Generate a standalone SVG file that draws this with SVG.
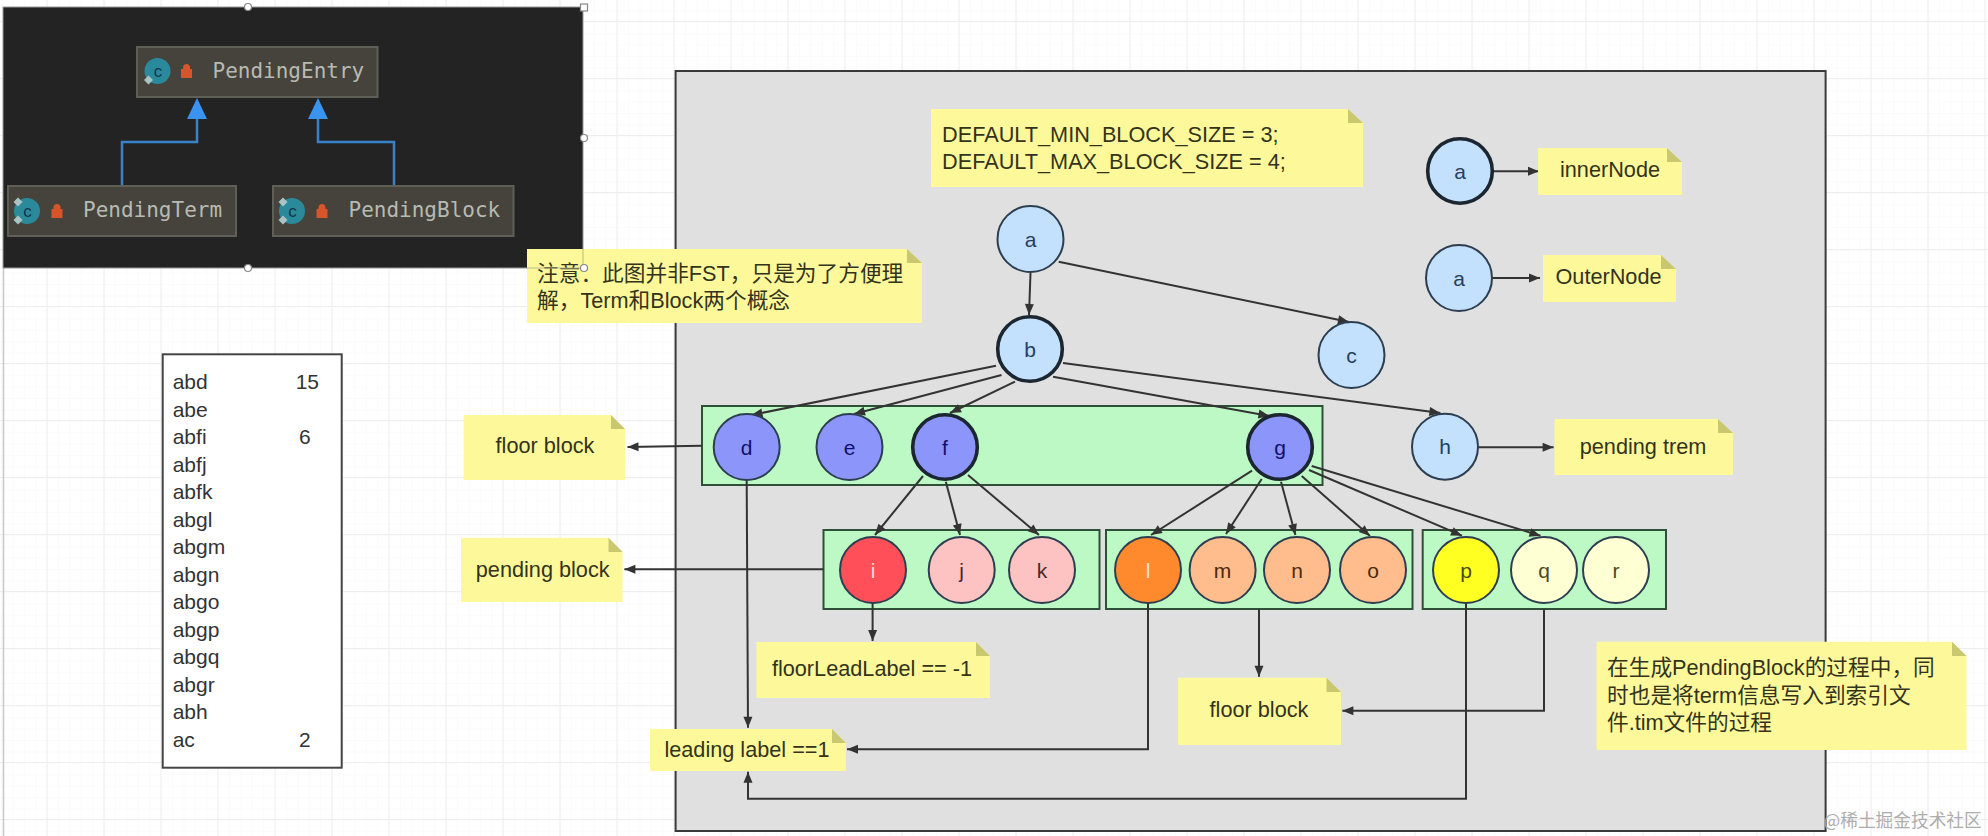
<svg xmlns="http://www.w3.org/2000/svg" width="1988" height="836" viewBox="0 0 1988 836">
<style>
.mono{font-family:"DejaVu Sans Mono",monospace;font-size:21px;fill:#b7bab3}
.kl{fill:#45433b;stroke:#5f5f58;stroke-width:2}
.lock{fill:#d6552a}
.ic{fill:#2a8a9c}
.icd{fill:#a9c4c4}
.ict{font-family:"Liberation Sans",sans-serif;font-size:17px;fill:#12364a;text-anchor:middle}
.bl{fill:none;stroke:#3a82c8;stroke-width:2.5}
.tri{fill:#3a93ee}
.note{fill:#fdf99a}
.fold{fill:#c9c76f}
.nt{font-family:"Liberation Sans","Noto Sans CJK SC",sans-serif;font-size:21.7px;fill:#33331c}
.m{text-anchor:middle}
.grp{fill:#bdf9c5;stroke:#2f4f38;stroke-width:2}
.c{stroke:#2c3e50;stroke-width:2}
.th{stroke:#1c2630;stroke-width:3.6}
.blue{fill:#c3e0fd}.pur{fill:#8c96fa}.red{fill:#ff505a}.pink{fill:#fdc3c3}.or{fill:#ff8a2e}.pe{fill:#ffbd8e}.ye{fill:#ffff22}.cr{fill:#ffffd4}
.l{font-family:"Liberation Sans",sans-serif;font-size:21px;text-anchor:middle;fill:#24405e}
.ln{fill:none;stroke:#333;stroke-width:2}
.li{font-family:"Liberation Sans",sans-serif;font-size:21px;fill:#333}
.hd{fill:#fff;stroke:#888;stroke-width:1.2}
</style>
<defs>
<pattern id="minor" width="11.4" height="11.4" patternUnits="userSpaceOnUse" x="2" y="0"><path d="M11.4 0V11.4M0 11.4H11.4" fill="none" stroke="#f7f7f7" stroke-width="1"/></pattern>
<pattern id="major" width="57" height="57" patternUnits="userSpaceOnUse" x="46.5" y="21"><path d="M0.5 0V57M0 0.5H57" fill="none" stroke="#eeeeee" stroke-width="1.2"/></pattern>
<marker id="arr" markerUnits="userSpaceOnUse" markerWidth="13" markerHeight="11" refX="12" refY="5.5" orient="auto"><path d="M1 1L12 5.500L1 10Z" fill="#333"/></marker>
</defs>
<rect width="1988" height="836" fill="#fff"/>
<rect width="1988" height="836" fill="url(#minor)"/>
<rect width="1988" height="836" fill="url(#major)"/>
<path d="M3.5 268V836" stroke="#c8c8c8" stroke-width="1.5" fill="none"/>

<g id="class-diagram">
<rect x="3" y="7" width="580" height="261" fill="#232323" stroke="#999" stroke-width="1"/>
<path class="bl" d="M197 118V142H122V186"/>
<path class="bl" d="M318 118V142H394V186"/>
<path class="tri" d="M197 98L207 119H187Z"/>
<path class="tri" d="M318 98L328 119H308Z"/>
<g id="PendingEntry">
<rect class="kl" x="137" y="47" width="240.500" height="50"/>
<circle class="ic" cx="157.500" cy="71" r="13"/><path class="icd" d="M148.500 75.500L153 80L148.500 84.500L144 80Z"/>
<text class="ict" x="158" y="77">c</text>
<path class="lock" d="M181 78V69H183V67.500A3.500 3.500 0 0 1 190 67.500V69H192V78Z"/>
<text class="mono" x="212.500" y="78">PendingEntry</text>
</g>
<g id="PendingTerm">
<rect class="kl" x="8" y="186" width="228" height="50"/>
<circle class="ic" cx="27" cy="211" r="13"/><path class="icd" d="M18 215.500L22.500 220L18 224.500L13.500 220Z"/><path class="icd" d="M18 197.500L22.500 202L18 206.500L13.500 202Z"/>
<text class="ict" x="27.500" y="217">c</text>
<path class="lock" d="M51.500 218V209H53.500V207.500A3.500 3.500 0 0 1 60.500 207.500V209H62.500V218Z"/>
<text class="mono" x="83" y="217">PendingTerm</text>
</g>
<g id="PendingBlock">
<rect class="kl" x="273" y="186" width="240.500" height="50"/>
<circle class="ic" cx="292" cy="211" r="13"/><path class="icd" d="M283 215.500L287.500 220L283 224.500L278.500 220Z"/><path class="icd" d="M283 197.500L287.500 202L283 206.500L278.500 202Z"/>
<text class="ict" x="292.500" y="217">c</text>
<path class="lock" d="M316.500 218V209H318.500V207.500A3.500 3.500 0 0 1 325.500 207.500V209H327.500V218Z"/>
<text class="mono" x="348.500" y="217">PendingBlock</text>
</g>
</g>

<g id="term-list">
<rect x="162.700" y="354.300" width="179" height="413.400" fill="#fff" stroke="#444" stroke-width="2"/>
<text class="li" x="172.700" y="389.300">abd</text><text class="li" x="295.700" y="389.300">15</text>
<text class="li" x="172.700" y="416.800">abe</text>
<text class="li" x="172.700" y="444.300">abfi</text><text class="li" x="299" y="444.300">6</text>
<text class="li" x="172.700" y="471.800">abfj</text>
<text class="li" x="172.700" y="499.300">abfk</text>
<text class="li" x="172.700" y="526.800">abgl</text>
<text class="li" x="172.700" y="554.300">abgm</text>
<text class="li" x="172.700" y="581.800">abgn</text>
<text class="li" x="172.700" y="609.300">abgo</text>
<text class="li" x="172.700" y="636.800">abgp</text>
<text class="li" x="172.700" y="664.300">abgq</text>
<text class="li" x="172.700" y="691.800">abgr</text>
<text class="li" x="172.700" y="719.300">abh</text>
<text class="li" x="172.700" y="746.800">ac</text><text class="li" x="299" y="746.800">2</text>
</g>

<rect id="canvas" x="675.600" y="71" width="1150" height="760" fill="#e0e0e0" stroke="#3a3a3a" stroke-width="2"/>

<g id="block-floor-1"><rect class="grp" x="702" y="406" width="620.500" height="79"/></g>
<g id="block-pending"><rect class="grp" x="823.500" y="530" width="276" height="79"/></g>
<g id="block-floor-2"><rect class="grp" x="1106" y="530" width="306.500" height="79"/></g>
<g id="block-floor-3"><rect class="grp" x="1422.700" y="530" width="243.300" height="79"/></g>

<g id="connectors">
<path class="ln" marker-end="url(#arr)" d="M1030.500 273L1029 315"/>
<path class="ln" marker-end="url(#arr)" d="M1058.700 261.700L1349 322"/>
<path class="ln" marker-end="url(#arr)" d="M996 365.700L751.500 415"/>
<path class="ln" marker-end="url(#arr)" d="M1001.500 375L854 414"/>
<path class="ln" marker-end="url(#arr)" d="M1015 381.700L950 413"/>
<path class="ln" marker-end="url(#arr)" d="M1053 376.700L1269.400 416"/>
<path class="ln" marker-end="url(#arr)" d="M1063 363L1440.400 413"/>
<path class="ln" marker-end="url(#arr)" d="M702 445.700L627.500 447"/>
<path class="ln" marker-end="url(#arr)" d="M746.700 480.700L748 727.700"/>
<path class="ln" marker-end="url(#arr)" d="M923 476L875 535"/>
<path class="ln" marker-end="url(#arr)" d="M945.800 481.700L960 535"/>
<path class="ln" marker-end="url(#arr)" d="M968 475L1039 535"/>
<path class="ln" marker-end="url(#arr)" d="M872.600 602.700V641"/>
<path class="ln" marker-end="url(#arr)" d="M823.500 569.300H624.400"/>
<path class="ln" marker-end="url(#arr)" d="M1252 470.700L1151 535"/>
<path class="ln" marker-end="url(#arr)" d="M1261.700 479L1226 534"/>
<path class="ln" marker-end="url(#arr)" d="M1281 481.700L1295.400 535"/>
<path class="ln" marker-end="url(#arr)" d="M1301.700 476L1370 536"/>
<path class="ln" marker-end="url(#arr)" d="M1309 470L1462 535.700"/>
<path class="ln" marker-end="url(#arr)" d="M1311.700 466L1540.500 535.700"/>
<path class="ln" marker-end="url(#arr)" d="M1259 609V676.700"/>
<path class="ln" marker-end="url(#arr)" d="M1544 609V710.700H1342.400"/>
<path class="ln" marker-end="url(#arr)" d="M1148 602.700V749.300H847"/>
<path class="ln" marker-end="url(#arr)" d="M1466 602.700V798.700H748V771.700"/>
<path class="ln" marker-end="url(#arr)" d="M1494 171.300H1539"/>
<path class="ln" marker-end="url(#arr)" d="M1492.600 278H1540"/>
<path class="ln" marker-end="url(#arr)" d="M1478 447.300H1553.600"/>
</g>

<g id="node-a"><circle class="c blue" cx="1030.500" cy="239" r="33"/><text class="l" x="1030.500" y="246.500">a</text></g>
<g id="node-b"><circle class="th blue" cx="1030" cy="349" r="32.300"/><text class="l" x="1030" y="356.500">b</text></g>
<g id="node-c"><circle class="c blue" cx="1351.500" cy="355" r="33"/><text class="l" x="1351.500" y="362.500">c</text></g>
<g id="node-h"><circle class="c blue" cx="1445" cy="446.700" r="33"/><text class="l" x="1445" y="454">h</text></g>
<g id="legend-inner"><circle class="th blue" cx="1460" cy="171" r="32.300"/><text class="l" x="1460" y="178.500">a</text></g>
<g id="legend-outer"><circle class="c blue" cx="1459" cy="278" r="33"/><text class="l" x="1459" y="285.500">a</text></g>
<g id="node-d"><circle class="c pur" cx="746.700" cy="447" r="33"/><text class="l" x="746.700" y="454.500" style="fill:#10106a">d</text></g>
<g id="node-e"><circle class="c pur" cx="849.500" cy="447" r="33"/><text class="l" x="849.500" y="454.500" style="fill:#10106a">e</text></g>
<g id="node-f"><circle class="th pur" cx="945" cy="447" r="32.300"/><text class="l" x="945" y="454.500" style="fill:#10106a">f</text></g>
<g id="node-g"><circle class="th pur" cx="1280" cy="447" r="32.300"/><text class="l" x="1280" y="454.500" style="fill:#10106a">g</text></g>
<g id="node-i"><circle class="c red" cx="873" cy="570" r="33"/><text class="l" x="873" y="577.500" style="fill:#ffd8d8">i</text></g>
<g id="node-j"><circle class="c pink" cx="961.700" cy="570" r="33"/><text class="l" x="961.700" y="577.500" style="fill:#4a2a2a">j</text></g>
<g id="node-k"><circle class="c pink" cx="1042" cy="570" r="33"/><text class="l" x="1042" y="577.500" style="fill:#4a2a2a">k</text></g>
<g id="node-l"><circle class="c or" cx="1148" cy="570" r="33"/><text class="l" x="1148" y="577.500" style="fill:#ffe2c8">l</text></g>
<g id="node-m"><circle class="c pe" cx="1222.600" cy="570" r="33"/><text class="l" x="1222.600" y="577.500" style="fill:#4a2a10">m</text></g>
<g id="node-n"><circle class="c pe" cx="1297" cy="570" r="33"/><text class="l" x="1297" y="577.500" style="fill:#4a2a10">n</text></g>
<g id="node-o"><circle class="c pe" cx="1373" cy="570" r="33"/><text class="l" x="1373" y="577.500" style="fill:#4a2a10">o</text></g>
<g id="node-p"><circle class="c ye" cx="1466" cy="570" r="33"/><text class="l" x="1466" y="577.500" style="fill:#4a4a10">p</text></g>
<g id="node-q"><circle class="c cr" cx="1544" cy="570" r="33"/><text class="l" x="1544" y="577.500" style="fill:#4a4a20">q</text></g>
<g id="node-r"><circle class="c cr" cx="1616" cy="570" r="33"/><text class="l" x="1616" y="577.500" style="fill:#4a4a20">r</text></g>

<g id="note-default">
<path class="note" d="M931 109H1348L1363 123V187H931Z"/><path class="fold" d="M1348 109L1363 123H1348Z"/>
<text class="nt" x="942" y="141.700">DEFAULT_MIN_BLOCK_SIZE = 3;</text>
<text class="nt" x="942" y="169">DEFAULT_MAX_BLOCK_SIZE = 4;</text>
</g>
<g id="note-caution">
<path class="note" d="M527 249H907L922 263V323H527Z"/><path class="fold" d="M907 249L922 263H907Z"/>
<text class="nt" x="537" y="280.700">注意：此图并非FST，只是为了方便理</text>
<text class="nt" x="537" y="307.700">解，Term和Block两个概念</text>
</g>
<g id="note-inner">
<path class="note" d="M1538 148H1667L1682 162V195H1538Z"/><path class="fold" d="M1667 148L1682 162H1667Z"/>
<text class="nt m" x="1610" y="176.700">innerNode</text>
</g>
<g id="note-outer">
<path class="note" d="M1543 255H1661L1676 269V302H1543Z"/><path class="fold" d="M1661 255L1676 269H1661Z"/>
<text class="nt m" x="1608.500" y="284">OuterNode</text>
</g>
<g id="note-trem">
<path class="note" d="M1554.500 419H1718L1733 433V475H1554.500Z"/><path class="fold" d="M1718 419L1733 433H1718Z"/>
<text class="nt m" x="1643" y="454">pending trem</text>
</g>
<g id="note-floor-1">
<path class="note" d="M463.700 415H611L625 429V480H463.700Z"/><path class="fold" d="M611 415L625 429H611Z"/>
<text class="nt m" x="545" y="453">floor block</text>
</g>
<g id="note-pending">
<path class="note" d="M461 537.700H608.500L622.600 552V602H461Z"/><path class="fold" d="M608.500 537.700L622.600 552H608.500Z"/>
<text class="nt m" x="542.700" y="576.700">pending block</text>
</g>
<g id="note-floorlead">
<path class="note" d="M756.500 642H976L990 656V698H756.500Z"/><path class="fold" d="M976 642L990 656H976Z"/>
<text class="nt m" x="872" y="676">floorLeadLabel == -1</text>
</g>
<g id="note-leading">
<path class="note" d="M650 729H832L846 743V771H650Z"/><path class="fold" d="M832 729L846 743H832Z"/>
<text class="nt m" x="747" y="756.700">leading label ==1</text>
</g>
<g id="note-floor-2">
<path class="note" d="M1178 677.700H1326.500L1341 692V745H1178Z"/><path class="fold" d="M1326.500 677.700L1341 692H1326.500Z"/>
<text class="nt m" x="1259" y="717">floor block</text>
</g>
<g id="note-long">
<path class="note" d="M1596.600 641.700H1952L1966.500 656V750H1596.600Z"/><path class="fold" d="M1952 641.700L1966.500 656H1952Z"/>
<text class="nt" x="1607" y="675">在生成PendingBlock的过程中，同</text>
<text class="nt" x="1607" y="702.700">时也是将term信息写入到索引文</text>
<text class="nt" x="1607" y="730">件.tim文件的过程</text>
</g>

<g id="selection-handles">
<path d="M527 268H583V249" fill="none" stroke="#b8b890" stroke-width="1"/>
<circle class="hd" cx="248" cy="7" r="3.500"/>
<rect class="hd" x="580.500" y="4" width="7" height="7"/>
<circle class="hd" cx="584" cy="138" r="3.500"/>
<circle class="hd" cx="248" cy="268" r="3.500"/>
<circle class="hd" cx="584" cy="268" r="3.500"/>
</g>
<text x="1823.500" y="826.500" font-family="'Noto Sans CJK SC',sans-serif" font-size="17.700" fill="#adadad">@稀土掘金技术社区</text>
</svg>
